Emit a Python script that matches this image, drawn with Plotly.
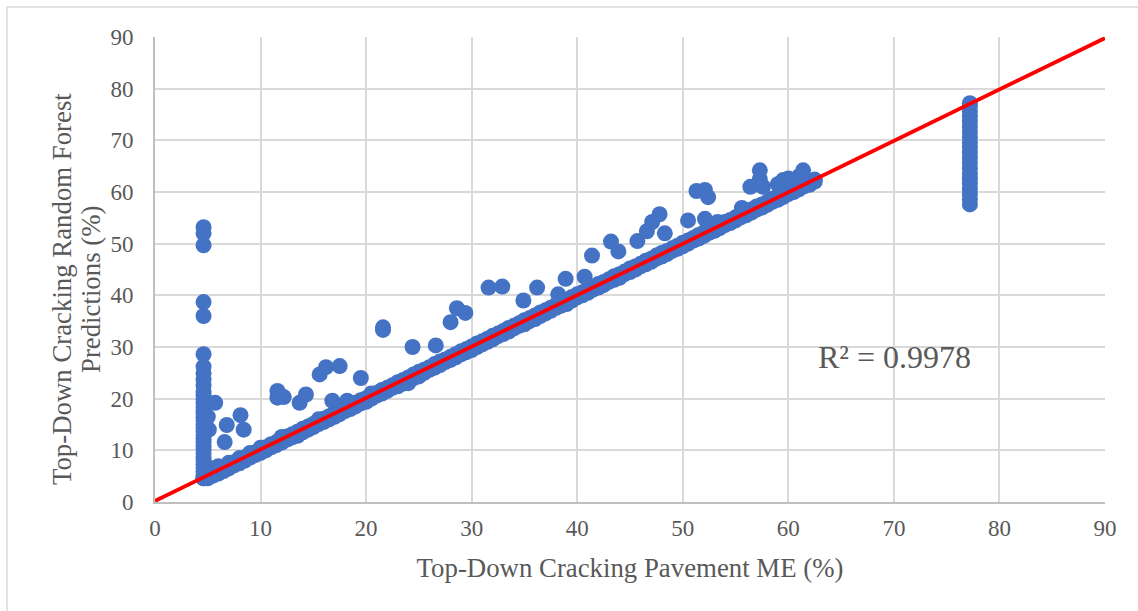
import plotly.graph_objects as go

# main band along the 1:1 line (upper edge of the band)
band_x = [4.6,5.0,5.5,6.0,6.5,7.0,7.5,8.0,8.5,9.0,9.5,10.0,10.5,11.0,11.5,12.0,12.5,13.0,13.5,14.0,14.5,15.0,15.5,16.0,16.5,17.0,17.5,18.0,18.5,19.0,19.5,20.0,20.5,21.0,21.5,22.0,22.5,23.0,23.5,24.0,24.5,25.0,25.5,26.0,26.5,27.0,27.5,28.0,28.5,29.0,29.5,30.0,30.5,31.0,31.5,32.0,32.5,33.0,33.5,34.0,34.5,35.0,35.5,36.0,36.5,37.0,37.5,38.0,38.5,39.0,39.5,40.0,40.5,41.0,41.5,42.0,42.5,43.0,43.5,44.0,44.5,45.0,45.5,46.0,46.5,47.0,47.5,48.0,48.5,49.0,49.5,50.0,50.5,51.0,51.5,52.0,52.5,53.0,53.5,54.0,54.5,55.0,55.5,56.0,56.5,57.0,57.5,58.0,58.5,59.0,59.5,60.0,60.5,61.0,61.5,62.0,62.5]
band_y = [4.7,5.1,5.6,6.2,6.6,7.1,7.7,8.1,8.6,9.2,9.6,10.1,10.6,11.2,11.6,12.1,12.7,13.1,13.6,14.2,14.6,15.1,15.7,16.1,16.6,17.2,17.6,18.1,18.6,19.2,19.7,20.1,20.6,21.1,21.7,22.1,22.6,23.2,23.6,24.1,24.7,25.2,25.6,26.1,26.7,27.2,27.6,28.1,28.6,29.2,29.6,30.1,30.7,31.1,31.6,32.2,32.6,33.1,33.7,34.1,34.6,35.2,35.6,36.1,36.7,37.1,37.6,38.2,38.6,39.1,39.7,40.2,40.6,41.1,41.6,42.2,42.6,43.1,43.7,44.1,44.6,45.2,45.6,46.1,46.7,47.1,47.7,48.2,48.6,49.1,49.6,50.2,50.6,51.1,51.7,52.2,52.6,53.1,53.7,54.2,54.6,55.1,55.7,56.1,56.6,57.2,57.6,58.1,58.7,59.2,59.6,60.1,60.6,61.2,61.6,62.1,62.4]

# lower edge of the same band, with a few points dipping further below the line
lower_x = band_x
lower_y = [4.6,4.6,5.1,5.5,6.0,6.5,7.1,7.5,8.0,8.6,9.1,9.5,10.0,10.6,11.0,11.5,12.1,12.5,12.8,13.5,14.0,14.5,15.1,15.5,16.0,16.5,17.0,17.6,18.0,18.5,19.1,19.4,20.0,20.6,21.0,21.5,22.1,22.4,22.9,23.0,24.0,24.3,25.0,25.6,26.0,26.5,27.1,27.5,28.0,28.6,29.0,29.4,30.0,30.5,31.0,31.5,32.1,32.5,33.0,33.6,34.1,34.4,35.0,35.4,36.0,36.5,37.0,37.6,38.0,38.3,39.0,39.6,40.0,40.5,41.1,41.5,42.0,42.6,43.0,43.4,44.1,44.5,45.0,45.6,46.0,46.5,47.1,47.5,48.0,48.6,49.0,49.5,50.0,50.6,51.0,51.5,52.1,52.5,53.0,53.6,54.0,54.5,55.1,55.5,56.0,56.6,57.0,57.5,58.1,58.5,59.0,59.6,60.0,60.5,61.1,61.4,62.0]

# wedge of points where the band meets the low column
wedge_x = [5.2,6.0,7.0,8.0,9.0,10.0,12.0,15.5,20.5]
wedge_y = [6.6,6.9,7.6,8.5,9.5,10.5,12.6,16.0,21.0]

# vertical columns at the two clipped Pavement ME values
low_col_x = [4.6]*35
low_col_y = [4.6,5.2,5.9,6.6,7.3,8.0,8.7,9.4,10.1,10.8,11.5,12.2,12.9,13.6,14.3,15.0,15.7,16.4,17.1,17.8,18.5,19.2,19.9,20.6,21.3,22.5,23.7,24.9,26.2,28.6,36.0,38.7,49.7,52.0,53.2]
high_col_x = [77.2]*21
high_col_y = [57.6,58.6,59.6,60.6,61.6,62.6,63.6,64.6,65.6,66.6,67.6,68.6,69.6,70.6,71.6,72.6,73.6,74.6,75.6,76.6,77.2]

# points scattered above the 1:1 line
out_x = [5.1,5.0,5.7,6.6,6.8,8.1,8.4,11.6,11.6,12.2,13.7,14.3,15.6,16.2,17.5,16.8,18.2,19.5,21.6,21.6,24.4,26.6,28.0,28.6,29.4,31.6,32.9,34.9,36.2,38.2,38.9,40.7,41.4,43.2,43.9,45.7,46.6,47.1,47.8,48.3,50.5,51.3,52.1,52.4,52.1,53.3,55.6,56.4,57.3,57.3,57.6,59.0,59.5,60.0,61.0,61.4]
out_y = [14.0,16.5,19.2,11.6,14.9,16.8,14.0,21.5,20.2,20.3,19.2,20.8,24.7,26.1,26.3,19.6,19.6,24.0,33.8,33.3,30.0,30.3,34.8,37.5,36.6,41.5,41.7,39.0,41.5,40.2,43.2,43.6,47.7,50.4,48.5,50.5,52.4,54.2,55.7,52.0,54.5,60.2,60.4,59.0,54.8,54.2,56.9,61.0,64.2,62.5,61.0,61.5,62.3,62.6,63.0,64.2]

line_x = [0, 90]
line_y = [0.2, 89.8]

x_ticks = [0,10,20,30,40,50,60,70,80,90]
y_ticks = [0,10,20,30,40,50,60,70,80,90]
x_title = "Top-Down Cracking Pavement ME (%)"
y_title_1 = "Top-Down Cracking Random Forest"
y_title_2 = "Predictions (%)"
r2_label = "R² = 0.9978"

BLUE = "#4472C4"
GREY = "#595959"
GRID = "#D9D9D9"
FONT = "Liberation Serif"

fig = go.Figure()
all_x = band_x + lower_x + wedge_x + low_col_x + high_col_x + out_x
all_y = band_y + lower_y + wedge_y + low_col_y + high_col_y + out_y
fig.add_trace(go.Scatter(x=all_x, y=all_y, mode="markers",
                         marker=dict(color=BLUE, size=16, line=dict(width=0)),
                         showlegend=False, cliponaxis=False))
fig.add_trace(go.Scatter(x=line_x, y=line_y, mode="lines",
                         line=dict(color="#FF0000", width=3.8),
                         showlegend=False, cliponaxis=False))

axis = dict(range=[0, 90], showgrid=True, gridcolor=GRID, gridwidth=2,
            zeroline=False, showline=True, linecolor="#BFBFBF", linewidth=2,
            tickfont=dict(family=FONT, size=23, color=GREY), ticks="")
fig.update_xaxes(tickvals=x_ticks, ticklabelstandoff=4,
                 title=dict(text=x_title, font=dict(family=FONT, size=26.8, color=GREY), standoff=19), **axis)
fig.update_yaxes(tickvals=y_ticks, ticklabelstandoff=15, **axis)

fig.add_annotation(x=-0.0979, y=0.458, xref="paper", yref="paper", text=y_title_1, textangle=-90,
                   xanchor="center", yanchor="middle", showarrow=False,
                   font=dict(family=FONT, size=26.8, color=GREY))
fig.add_annotation(x=-0.0674, y=0.458, xref="paper", yref="paper", text=y_title_2, textangle=-90,
                   xanchor="center", yanchor="middle", showarrow=False,
                   font=dict(family=FONT, size=26.8, color=GREY))
fig.add_annotation(x=70.1, y=28.1, xref="x", yref="y", text=r2_label, showarrow=False,
                   font=dict(family=FONT, size=32, color=GREY))
# outer chart frame: top and left edges
fig.add_shape(type="line", xref="paper", yref="paper", x0=-0.1558, x1=1.04, y0=1.0645, y1=1.0645,
              line=dict(color=GRID, width=1.5))
fig.add_shape(type="line", xref="paper", yref="paper", x0=-0.1558, x1=-0.1558, y0=-0.235, y1=1.0645,
              line=dict(color=GRID, width=1.5))

fig.update_layout(width=1138, height=611, paper_bgcolor="white", plot_bgcolor="white",
                  margin=dict(l=155, r=33, t=37, b=109), showlegend=False)
fig.write_html("out.html", post_script="document.body.style.margin='0';", config=dict(displayModeBar=False))
